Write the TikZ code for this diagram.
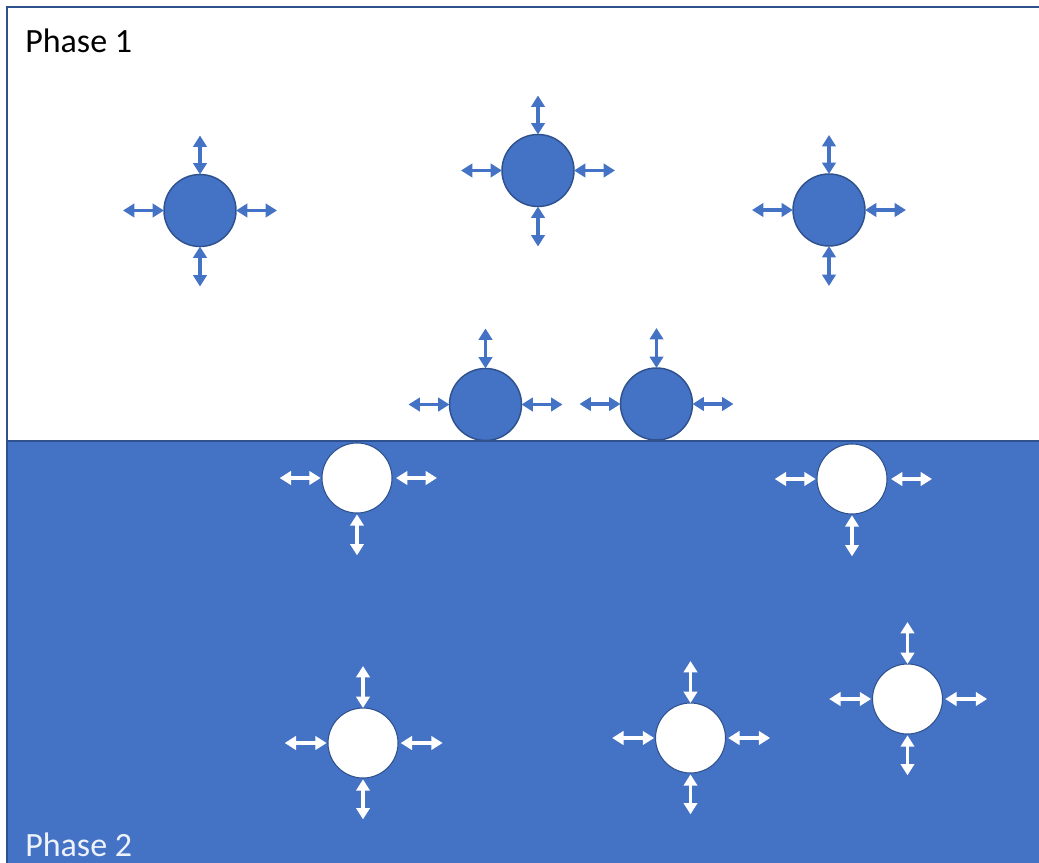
\documentclass[tikz,border=0pt]{standalone}
\usepackage{fontspec}
\setmainfont{Carlito}
\usetikzlibrary{arrows.meta}
\definecolor{accent}{HTML}{4472C4}
\definecolor{edgeblue}{HTML}{2F528F}
\definecolor{labellight}{HTML}{EEF2FA}
\tikzset{
  frameline/.style={draw=edgeblue, line width=1.4pt},
  bluebubble/.style={circle, fill=accent, draw=edgeblue, line width=1.1pt, minimum size=54pt, inner sep=0pt, outer sep=0pt},
  whitebubble/.style={circle, fill=white, draw=edgeblue, line width=0.8pt, minimum size=52.5pt, inner sep=0pt, outer sep=0pt},
  arrB/.style={draw=accent, line width=2.6pt, {Triangle[length=8.5pt,width=10pt]}-{Triangle[length=8.5pt,width=10pt]}},
  arrW/.style={draw=white, line width=2.6pt, {Triangle[length=8.5pt,width=10pt]}-{Triangle[length=8.5pt,width=10pt]}},
  phaselabel/.style={anchor=base west, inner sep=0pt, font=\fontsize{25.5}{30}\selectfont}
}
\begin{document}
\begin{tikzpicture}[x=0.75pt,y=-0.75pt]
\useasboundingbox (0,0) rectangle (1039,863);
% phases
\draw[frameline, fill=white] (7,7) rectangle (1050,441);
\draw[frameline, fill=accent] (7,441) rectangle (1050,875);
\node[phaselabel] (p1) at (25,53) {Phase 1};
\node[phaselabel, text=labellight] (p2) at (25,856) {Phase 2};
% blue bubbles (phase 1)
\node[bluebubble] (b1) at (200,210.5) {};
\node[bluebubble] (b2) at (538,170.5) {};
\node[bluebubble] (b3) at (829,210) {};
\node[bluebubble] (b4) at (485.5,404.5) {};
\node[bluebubble] (b5) at (656.5,404) {};
\foreach \n in {b1,b2,b3}{
  \draw[arrB] (\n.north) -- ++(0,-39);
  \draw[arrB] (\n.south) -- ++(0,40);
  \draw[arrB] (\n.west) -- ++(-41,0);
  \draw[arrB] (\n.east) -- ++(41,0);
}
\foreach \n in {b4,b5}{
  \draw[arrB] (\n.north) -- ++(0,-40);
  \draw[arrB] (\n.west) -- ++(-41,0);
  \draw[arrB] (\n.east) -- ++(41,0);
}
% white bubbles (phase 2)
\node[whitebubble] (w1) at (357,478) {};
\node[whitebubble] (w2) at (852,479) {};
\node[whitebubble] (w3) at (363,743) {};
\node[whitebubble] (w4) at (690.5,738) {};
\node[whitebubble] (w5) at (907.5,699) {};
\foreach \n in {w1,w2}{
  \draw[arrW] ([yshift=-1pt]\n.south) -- ++(0,41);
  \draw[arrW] ([xshift=-1pt]\n.west) -- ++(-41,0);
  \draw[arrW] ([xshift=3pt]\n.east) -- ++(41,0);
}
\foreach \n in {w3,w4,w5}{
  \draw[arrW] (\n.north) -- ++(0,-42);
  \draw[arrW] ([yshift=-1pt]\n.south) -- ++(0,40);
  \draw[arrW] ([xshift=-1pt]\n.west) -- ++(-42,0);
  \draw[arrW] ([xshift=2pt]\n.east) -- ++(42,0);
}
\end{tikzpicture}
\end{document}
